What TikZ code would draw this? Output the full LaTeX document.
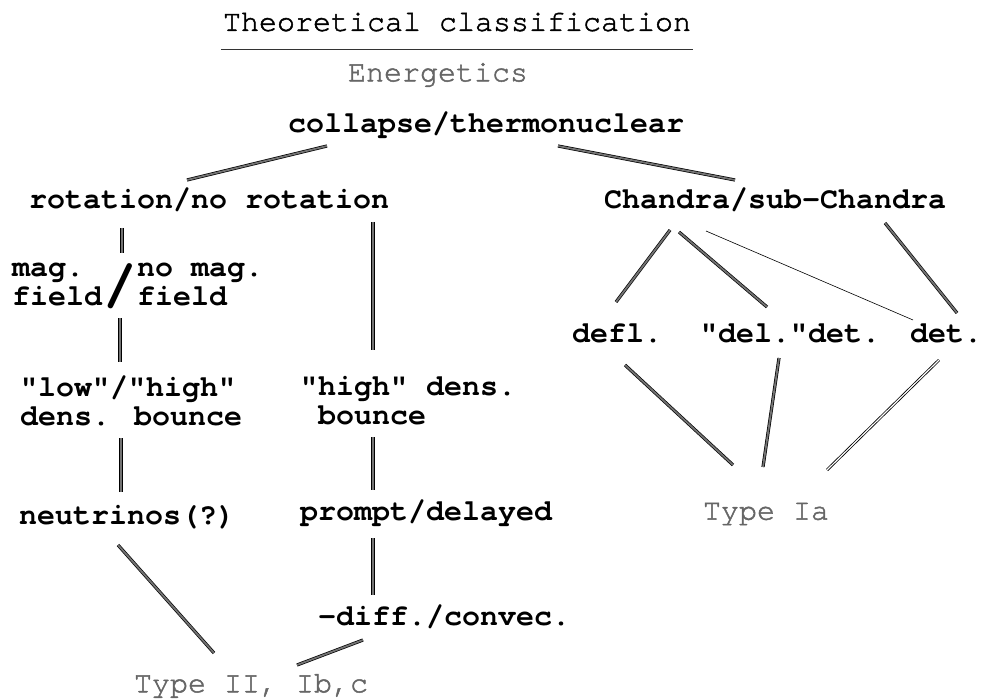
\documentclass[tikz,border=0pt]{standalone}
\usepackage{fontspec}
\newfontfamily\courfamily{texgyrecursor}[Extension=.otf, UprightFont=*-regular, BoldFont=*-bold, Ligatures=NoCommon]
\newfontfamily\courmid{texgyrecursor-regular.otf}[FakeBold=1.6, Ligatures=NoCommon]
\begin{document}
\begin{tikzpicture}[x=1pt, y=-1pt,
    lbl/.style={font=\courfamily\bfseries\fontsize{30}{29}\selectfont, inner sep=0pt},
    faint/.style={font=\courmid\fontsize{30}{29}\selectfont, text=black!60, inner sep=0pt},
    link/.style={draw=black, line width=0.7pt, double=black!55, double distance=1.8pt},
    thinlink/.style={draw=black, line width=0.6pt},
    duallink/.style={draw=black, line width=0.8pt, double=white, double distance=1.2pt}]
  \useasboundingbox (0,0) rectangle (984,700);
  \node[faint, text=black] (title) at (457,22) {Theoretical classification};
  \draw[line width=0.8pt, black!80] ([shift={(-2,27)}]title.west) -- ([shift={(2,27)}]title.east);
  \node[faint] (energ) at (438,75) {Energetics};
  \node[lbl] (coll) at (486,125) {collapse/thermonuclear};
  \node[lbl] (rot) at (209,200) {rotation/no rotation};
  \node[lbl] (chan) at (775,200) {Chandra/sub-Chandra};
  \node[lbl, align=left, anchor=west] (mag) at (12,284) {mag.\\field};
  \node[lbl, font=\courfamily\bfseries\fontsize{56}{56}\selectfont] (slash) at (120,286) {/};
  \node[lbl, align=left, anchor=west] (nomag) at (137,284) {no mag.\\field};
  \node[lbl, align=left] (lowhigh) at (131,401) {"low"/"high"\\dens. bounce};
  \node[lbl, align=left] (highdens) at (408,401) {"high" dens.\\\hspace*{0.6em}bounce};
  \node[lbl] (neutr) at (127,517) {neutrinos(?)};
  \node[lbl] (prompt) at (426,513) {prompt/delayed};
  \node[lbl] (diff) at (444,617) {-diff./convec.};
  \node[faint] (typeII) at (251,686) {Type II, Ib,c};
  \node[lbl] (defl) at (617,333) {defl.};
  \node[lbl] (deldet) at (790,333) {"del."det.};
  \node[lbl] (det) at (946,333) {det.};
  \node[faint] (typeIa) at (766,514) {Type Ia};

  \draw[link] ([shift={(-159,21)}]coll.center) -- ([shift={(-22,-20)}]rot.center);
  \draw[link] ([shift={(72,21)}]coll.center) -- ([shift={(-40,-20)}]chan.center);
  \draw[link] ([shift={(-87,28)}]rot.center) -- ([shift={(2,-33)}]slash.center);
  \draw[link] ([shift={(0,32)}]slash.center) -- ([shift={(-11,-39)}]lowhigh.center);
  \draw[link] ([shift={(-10,37)}]lowhigh.center) -- ([shift={(-6,-25)}]neutr.center);
  \draw[link] ([shift={(164,22)}]rot.center) -- ([shift={(-35,-51)}]highdens.center);
  \draw[link] ([shift={(-35,36)}]highdens.center) -- ([shift={(-53,-23)}]prompt.center);
  \draw[link] ([shift={(-53,25)}]prompt.center) -- ([shift={(-71,-22)}]diff.center);
  \draw[link] ([shift={(-9,28)}]neutr.center) -- ([shift={(-37,-33)}]typeII.center);
  \draw[link] ([shift={(-81,23)}]diff.center) -- ([shift={(46,-21)}]typeII.center);
  \draw[link] ([shift={(-105,30)}]chan.center) -- ([shift={(-1,-31)}]defl.center);
  \draw[link] ([shift={(-96,32)}]chan.center) -- ([shift={(-23,-26)}]deldet.center);
  \draw[thinlink] ([shift={(-69,31)}]chan.center) -- ([shift={(-33,-13)}]det.center);
  \draw[link] ([shift={(110,23)}]chan.center) -- ([shift={(11,-20)}]det.center);
  \draw[link] ([shift={(8,32)}]defl.center) -- ([shift={(-33,-49)}]typeIa.center);
  \draw[link] ([shift={(-11,25)}]deldet.center) -- ([shift={(-3,-47)}]typeIa.center);
  \draw[duallink] ([shift={(-7,27)}]det.center) -- ([shift={(61,-44)}]typeIa.center);
\end{tikzpicture}
\end{document}
